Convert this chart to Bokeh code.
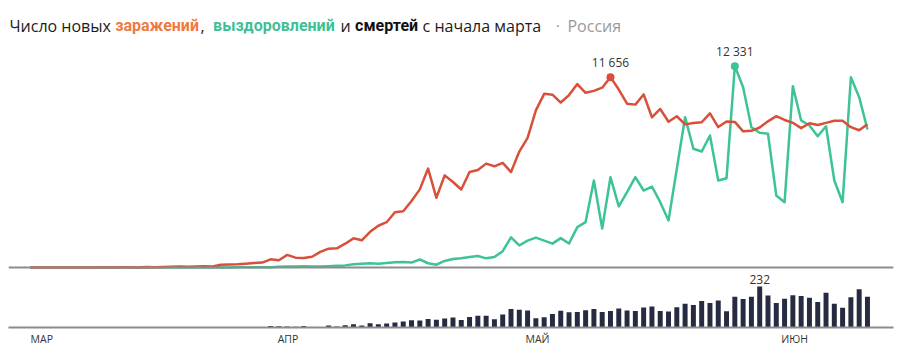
from bokeh.plotting import figure
from bokeh.layouts import column
from bokeh.models import Range1d, FixedTicker, Span, ColumnDataSource
from bokeh.core.properties import value
from bokeh.embed import file_html
from bokeh.resources import INLINE

# ---------------- data (day 0 = 1 March 2020) ----------------
months = ["МАР", "АПР", "МАЙ", "ИЮН"]
month_label_day = [2.4, 32.1, 62.2, 93.2]

# new infections, 2 March .. 11 June
infections = [
    1, 0, 0, 1, 6, 4, 3, 0, 3, 8, 6, 11, 14, 4, 30, 21, 33, 52, 54, 53, 61, 71, 57, 163, 182, 196, 228, 270, 302, 501,
    440, 771, 601, 582, 658, 954, 1154, 1175, 1459, 1786, 1667, 2186, 2558, 2774, 3388, 3448, 4070, 4785, 6060, 4268,
    5642, 5236, 4774, 5849, 5966, 6361, 6198, 6411, 5841, 7099,
    7933, 9623, 10633, 10581, 10102, 10559, 11231, 10699, 10817, 11012, 11656, 10899, 10028, 9974, 10598, 9200, 9709,
    8926, 9263, 8764, 8849, 8894, 9434, 8599, 8946, 8915, 8338, 8371, 8572, 8952, 9268,
    9035, 8860, 8536, 8831, 8726, 8855, 8984, 8985, 8595, 8404, 8779,
]

# recoveries, 2 March .. 11 June
recoveries = [
    0, 0, 0, 0, 0, 0, 0, 0, 0, 0, 0, 0, 3, 0, 0, 2, 0, 1, 4, 0, 1, 5, 7, 4, 3, 16, 10, 18, 9, 15,
    45, 55, 60, 70, 55, 60, 80, 110, 130, 200, 230, 260, 230, 280, 320, 340, 300, 490, 260, 170,
    400, 520, 560, 640, 700, 560, 640, 1000, 1850, 1350,
    1650, 1830, 1650, 1460, 1800, 1470, 2470, 2780, 5330, 2390, 5530, 3740, 4610, 5530, 4715, 4960, 4000,
    2880, 6040, 9205, 7270, 7100, 8085, 5330, 5470, 12331, 11040, 8590, 8250, 8190, 4410,
    4000, 11100, 9000, 8700, 8040, 8650, 5330, 4000, 11650, 10430, 8450,
]

# deaths, 1 March .. 11 June
deaths = [
    0, 0, 0, 0, 0, 0, 0, 0, 0, 0, 0, 0, 0, 0, 0, 0, 0, 0, 1, 0, 0, 0, 0, 0, 1, 0, 1, 1, 2, 1, 8,
    7, 6, 4, 9, 2, 2, 11, 5, 13, 18, 12, 24, 18, 22, 28, 34, 41, 40, 48, 44, 51, 57, 42, 60, 66, 66, 47, 73, 105, 101,
    96, 53, 58, 76, 95, 86, 88, 98, 104, 88, 94, 107, 96, 93, 113, 119, 94, 91, 115, 135, 127, 150, 139, 153, 92,
    174, 161, 174, 232, 181, 138,
    162, 182, 178, 169, 144, 197, 134, 112, 171, 216, 174,
]

title_parts = ["Число новых", "заражений", ",", "выздоровлений", "и", "смертей", "с начала марта", "·", "Россия"]
title_x = [1, 109, 196, 209, 339, 354, 423, 559, 571]
title_colors = ["#1b1b1b", "#ef7a40", "#1b1b1b", "#3fbf95", "#1b1b1b", "#111111", "#1b1b1b", "#a0a0a0", "#9a9a9a"]
title_styles = ["normal", "bold", "normal", "bold", "normal", "bold", "normal", "normal", "normal"]
title_fonts = ["Open Sans", "Roboto", "Open Sans", "Roboto", "Open Sans", "Roboto", "Open Sans", "Open Sans", "Open Sans"]

ORANGE = "#d9503a"
GREEN = "#3cc493"
NAVY = "#272b42"
GRAY = "#8c8c8c"

line_days = list(range(1, len(infections) + 1))
death_days = list(range(len(deaths)))

# ---------------- title ----------------
tf = figure(width=904, height=44, x_range=Range1d(0, 904), y_range=Range1d(44, 0),
            output_backend="svg", toolbar_location=None,
            x_axis_location=None, y_axis_location=None,
            min_border_left=0, min_border_right=0, min_border_top=0, min_border_bottom=0)
tf.grid.visible = False
tf.outline_line_color = None
tsrc = ColumnDataSource(dict(x=title_x, y=[25] * len(title_x), text=title_parts,
                             color=title_colors, style=title_styles, font=title_fonts))
tf.text(x="x", y="y", text="text", source=tsrc, text_color="color", text_font_style="style",
        text_font="font", text_font_size="16px",
        text_baseline="alphabetic", text_align="left")

# ---------------- main chart ----------------
p = figure(width=904, height=310, x_range=Range1d(-1.616, 105.14), y_range=Range1d(-3674, 13656),
           output_backend="svg", toolbar_location=None, y_axis_location=None,
           min_border_left=8, min_border_right=11, min_border_top=0, min_border_bottom=27)
p.grid.visible = False
p.outline_line_color = None
p.extra_y_ranges = {"bars": Range1d(0, 1601.6)}

p.add_layout(Span(location=0, dimension="width", line_color=GRAY, line_width=2))

p.line(line_days, recoveries, line_color=GREEN, line_width=2.5, line_join="round")
p.line(line_days, infections, line_color=ORANGE, line_width=2.5, line_join="round")

p.vbar(x=death_days, top=deaths, width=0.6, fill_color=NAVY, line_color=None, y_range_name="bars")

# peak markers
i_inf = max(range(len(infections)), key=lambda i: infections[i])
i_rec = max(range(len(recoveries)), key=lambda i: recoveries[i])
i_dth = max(range(len(deaths)), key=lambda i: deaths[i])

def fmt(v):
    return f"{v:,}".replace(",", " ")

p.scatter([line_days[i_inf]], [infections[i_inf]], size=8, fill_color=ORANGE, line_color=None)
p.scatter([line_days[i_rec]], [recoveries[i_rec]], size=8, fill_color=GREEN, line_color=None)
p.text([line_days[i_inf]], [infections[i_inf]], text=[fmt(infections[i_inf])], text_align="center",
       text_baseline="bottom", y_offset=-6, text_font=value("Open Sans"), text_font_size="12px",
       text_color="#333333")
p.text([line_days[i_rec]], [recoveries[i_rec]], text=[fmt(recoveries[i_rec])], text_align="center",
       text_baseline="bottom", y_offset=-6, text_font=value("Open Sans"), text_font_size="12px",
       text_color="#333333")
p.text([death_days[i_dth]], [deaths[i_dth]], text=[fmt(deaths[i_dth])], text_align="center",
       text_baseline="bottom", y_offset=-3, text_font=value("Open Sans"), text_font_size="12px",
       text_color="#333333", y_range_name="bars")

ax = p.xaxis[0]
ax.ticker = FixedTicker(ticks=month_label_day)
ax.major_label_overrides = {d: m for d, m in zip(month_label_day, months)}
ax.axis_line_color = GRAY
ax.axis_line_width = 2
ax.major_tick_line_color = None
ax.minor_tick_line_color = None
ax.major_tick_out = 0
ax.major_tick_in = 0
ax.major_label_standoff = 4
ax.major_label_text_font = "Open Sans"
ax.major_label_text_font_size = "10.5px"
ax.major_label_text_color = "#333333"

layout = column(tf, p, spacing=0)
open("out.html", "w").write(file_html(layout, INLINE))
